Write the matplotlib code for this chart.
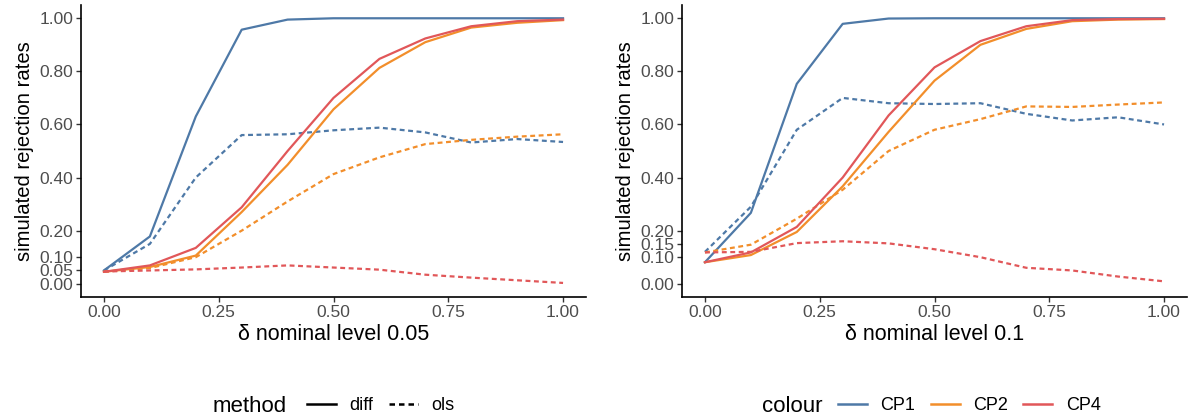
import numpy as np
import matplotlib
matplotlib.use("Agg")
import matplotlib.pyplot as plt
from matplotlib.lines import Line2D

plt.rcParams['font.family'] = ['Liberation Sans', 'DejaVu Sans']

delta = [0.0, 0.1, 0.2, 0.3, 0.4, 0.5, 0.6, 0.7, 0.8, 0.9, 1.0]

# nominal level 0.05
l05_cp1_diff = [0.050, 0.178, 0.630, 0.957, 0.995, 1.0, 1.0, 1.0, 1.0, 1.0, 1.0]
l05_cp2_diff = [0.045, 0.063, 0.106, 0.270, 0.448, 0.657, 0.813, 0.910, 0.965, 0.983, 0.993]
l05_cp4_diff = [0.045, 0.069, 0.135, 0.288, 0.500, 0.700, 0.847, 0.924, 0.970, 0.989, 0.995]
l05_cp1_ols = [0.050, 0.150, 0.400, 0.560, 0.563, 0.578, 0.588, 0.570, 0.532, 0.545, 0.534]
l05_cp2_ols = [0.045, 0.059, 0.100, 0.200, 0.310, 0.413, 0.476, 0.526, 0.542, 0.554, 0.563]
l05_cp4_ols = [0.046, 0.050, 0.054, 0.061, 0.069, 0.061, 0.053, 0.034, 0.023, 0.013, 0.003]

# nominal level 0.1
l10_cp1_diff = [0.081, 0.267, 0.753, 0.979, 0.999, 1.0, 1.0, 1.0, 1.0, 1.0, 1.0]
l10_cp2_diff = [0.081, 0.108, 0.195, 0.367, 0.572, 0.765, 0.900, 0.960, 0.989, 0.995, 0.997]
l10_cp4_diff = [0.081, 0.118, 0.214, 0.400, 0.634, 0.815, 0.914, 0.970, 0.993, 0.997, 0.998]
l10_cp1_ols = [0.120, 0.290, 0.580, 0.700, 0.680, 0.677, 0.680, 0.640, 0.615, 0.627, 0.600]
l10_cp2_ols = [0.118, 0.147, 0.245, 0.354, 0.500, 0.580, 0.620, 0.668, 0.666, 0.675, 0.683]
l10_cp4_ols = [0.118, 0.120, 0.153, 0.160, 0.152, 0.130, 0.100, 0.060, 0.050, 0.027, 0.009]

groups = ['CP1', 'CP2', 'CP4']
colors = {'CP1': '#4E79A7', 'CP2': '#F28E2B', 'CP4': '#E15759'}
dash = (0, (2.2, 1.6))

W, H = 1188, 416
panels = [
    {'xlabel': 'δ nominal level 0.05',
     'yticks': [0.0, 0.05, 0.10, 0.20, 0.40, 0.60, 0.80, 1.00],
     'diff': [l05_cp1_diff, l05_cp2_diff, l05_cp4_diff],
     'ols': [l05_cp1_ols, l05_cp2_ols, l05_cp4_ols],
     'rect': [81 / W, 119 / H, 505 / W, 292 / H]},
    {'xlabel': 'δ nominal level 0.1',
     'yticks': [0.0, 0.10, 0.15, 0.20, 0.40, 0.60, 0.80, 1.00],
     'diff': [l10_cp1_diff, l10_cp2_diff, l10_cp4_diff],
     'ols': [l10_cp1_ols, l10_cp2_ols, l10_cp4_ols],
     'rect': [682 / W, 119 / H, 505 / W, 292 / H]},
]

fig = plt.figure(figsize=(W / 100, H / 100), dpi=100)

for p in panels:
    ax = fig.add_axes(p['rect'])
    for g, d, o in zip(groups, p['diff'], p['ols']):
        ax.plot(delta, o, color=colors[g], lw=1.6, linestyle=dash)
        ax.plot(delta, d, color=colors[g], lw=1.6)
    ax.set_xlim(-0.05, 1.05)
    ax.set_ylim(-0.05, 1.05)
    xt = [0, 0.25, 0.5, 0.75, 1.0]
    ax.set_xticks(xt)
    ax.set_xticklabels(['%.2f' % v for v in xt])
    ax.set_yticks(p['yticks'])
    ax.set_yticklabels(['%.2f' % v for v in p['yticks']])
    ax.tick_params(labelsize=12.5, labelcolor='#4D4D4D', color='#333333',
                   length=3.5, width=1.0, pad=2)
    for s in ['top', 'right']:
        ax.spines[s].set_visible(False)
    for s in ['left', 'bottom']:
        ax.spines[s].set_linewidth(1.2)
    ax.set_xlabel(p['xlabel'], fontsize=15.5, labelpad=3)
    ax.set_ylabel('simulated rejection rates', fontsize=14.6, labelpad=4)

# legends
ybase = 4 / H
yleg = 10 / H
fig.text(213 / W, ybase, 'method', fontsize=16, va='baseline', ha='left')
mh = [Line2D([], [], color='black', lw=1.8),
      Line2D([], [], color='black', lw=1.8, linestyle=dash)]
fig.legend(mh, ['diff', 'ols'], loc='center left', bbox_to_anchor=(307 / W, yleg),
           ncol=2, frameon=False, fontsize=13, handlelength=1.6, handletextpad=0.75,
           columnspacing=0.85, borderpad=0, borderaxespad=0)

fig.text(762 / W, ybase, 'colour', fontsize=16, va='baseline', ha='left')
ch = [Line2D([], [], color=colors[g], lw=1.8) for g in groups]
fig.legend(ch, groups, loc='center left', bbox_to_anchor=(838 / W, yleg),
           ncol=3, frameon=False, fontsize=13, handlelength=1.6, handletextpad=0.75,
           columnspacing=0.85, borderpad=0, borderaxespad=0)

fig.savefig('out.png', dpi=100)
